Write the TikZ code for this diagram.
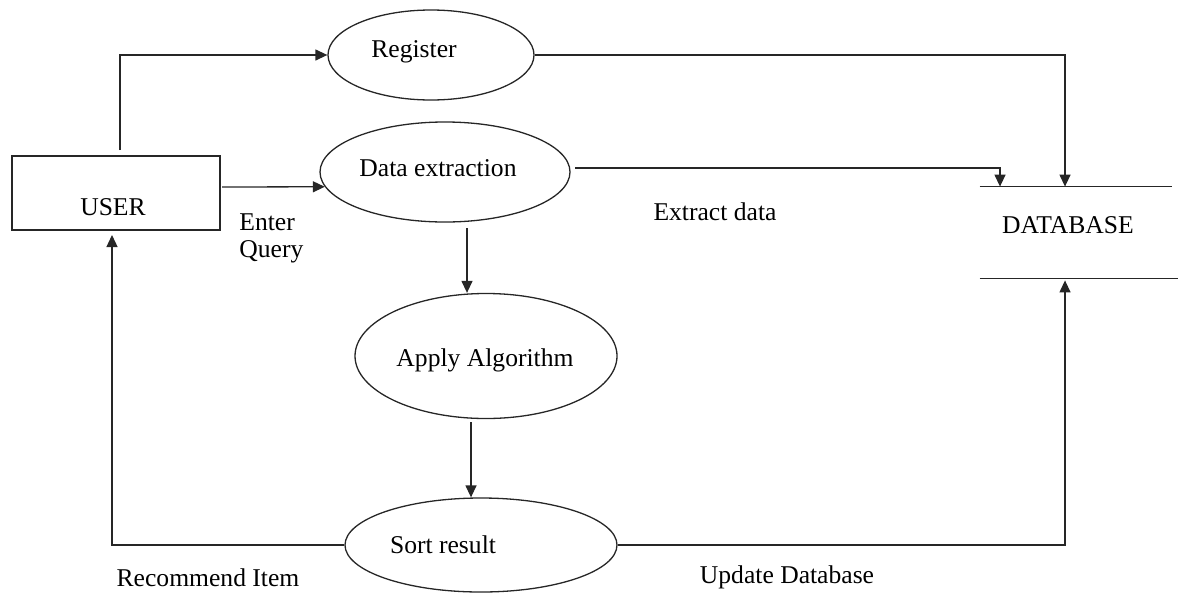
\documentclass[tikz,border=0pt]{standalone}
\usepackage{fontspec}
\setmainfont{Liberation Serif}
\usetikzlibrary{arrows.meta,shapes.geometric}
\tikzset{
  flow/.style={draw=black!85, line width=0.65pt, -{Triangle[length=6pt,width=5.5pt]}},
  plain/.style={draw=black!85, line width=0.65pt},
  proc/.style={ellipse, draw=black!85, line width=0.65pt, inner sep=0pt},
  entity/.style={rectangle, draw=black!85, line width=0.65pt, inner sep=0pt},
  txt/.style={inner sep=0pt, font=\fontsize{12.8}{13.5}\selectfont}
}
\begin{document}
\begin{tikzpicture}[x=0.5pt, y=-0.5pt]
\useasboundingbox (0,0) rectangle (1181,595);

% external entity
\node[entity, minimum width=104pt, minimum height=37pt] (user) at (116,193) {};
\node[txt] (usert) at (113,207) {USER};

% processes
\node[proc, minimum width=103pt, minimum height=45pt] (register) at (431,55) {};
\node[txt] (registert) at (414,52) {Register};
\node[proc, minimum width=125pt, minimum height=50pt] (dataext) at (445,172) {};
\node[txt] (dataextt) at (438,168) {Data extraction};
\node[proc, minimum width=131pt, minimum height=62.5pt] (apply) at (486,356) {};
\node[txt] (applyt) at (485,360) {Apply Algorithm};
\node[proc, minimum width=136pt, minimum height=47pt] (sort) at (481,545) {};
\node[txt] (sortt) at (443,545) {Sort result};

% data store (open-ended)
\node[rectangle, inner sep=0pt, minimum width=99pt, minimum height=45.5pt] (db) at (1079,232.5) {};
\draw[plain] (db.north west) -- ([xshift=-3pt]db.north east);
\draw[plain] (db.south west) -- (db.south east);
\node[txt] (dbt) at (1068,225) {DATABASE};

% helper points for the vertical flows
\coordinate (uup) at (120,150);
\coordinate (q) at (222,187);
\coordinate (d1) at (467,228);
\coordinate (a1) at (471,422);
\coordinate (u1) at (112,235);
\coordinate (dx) at (575,168);

% flows
\draw[flow] (uup) |- (register.west);
\draw[flow] (q) -- (dataext.187);
\draw[flow] (register.east) -| (db.north -| 1065,0);
\draw[flow] (dx) -| (db.north -| 1000,0);
\draw[flow] (d1) -- (apply.north -| d1);
\draw[flow] (a1) -- (sort.north -| a1);
\draw[flow] (sort.west) -| (u1);
\draw[flow] (sort.east) -| ([yshift=-1pt]db.south -| 1065,0);

% flow labels
\node[txt, align=left, anchor=west] (enterq) at (239,238) {Enter\\Query};
\node[txt] (extractl) at (715,212) {Extract data};
\node[txt] (recl) at (208,578) {Recommend Item};
\node[txt] (updl) at (787,577) {Update Database};
\end{tikzpicture}
\end{document}
